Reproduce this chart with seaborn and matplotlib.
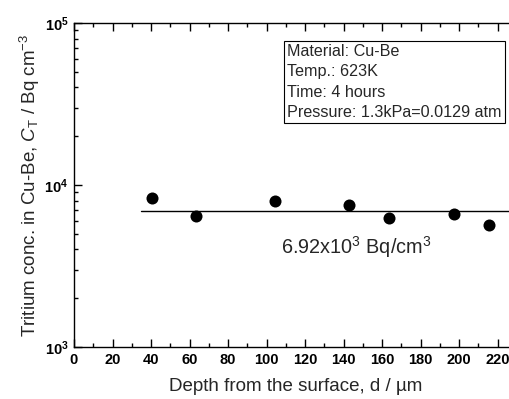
import matplotlib
matplotlib.use("Agg")
import matplotlib.pyplot as plt
import matplotlib.ticker as mticker
import numpy as np
import pandas as pd
import seaborn as sns

# Measured tritium concentration vs depth
depth_um = [40.4, 63.2, 104.4, 143.0, 163.8, 197.6, 215.4]
conc_bq_cm3 = [8300, 6450, 7950, 7550, 6250, 6650, 5700]

# Mean concentration level
mean_conc = 6920
mean_span = [34.6, 240]

x_ticks = [0, 20, 40, 60, 80, 100, 120, 140, 160, 180, 200, 220, 240]

info_lines = ["Material: Cu-Be", "Temp.: 623K", "Time: 4 hours",
              "Pressure: 1.3kPa=0.0129 atm"]

sns.set_theme(style="ticks")
plt.rcParams["font.family"] = ["Liberation Sans", "DejaVu Sans"]
plt.rcParams["mathtext.fontset"] = "custom"
plt.rcParams["mathtext.rm"] = "Liberation Sans"
plt.rcParams["mathtext.it"] = "Liberation Sans:italic"
plt.rcParams["mathtext.bf"] = "Liberation Sans:bold"

W, H = 509, 399
fig = plt.figure(figsize=(W / 100, H / 100), dpi=100)
ax_left, ax_right, ax_top, ax_bottom = 74, 536, 23, 347
ax = fig.add_axes([ax_left / W, (H - ax_bottom) / H,
                   (ax_right - ax_left) / W, (ax_bottom - ax_top) / H])

df = pd.DataFrame({"depth": depth_um, "conc": conc_bq_cm3})
line_df = pd.DataFrame({"depth": mean_span, "conc": [mean_conc, mean_conc]})

sns.lineplot(data=line_df, x="depth", y="conc", color="black", lw=1.0, ax=ax)
sns.scatterplot(data=df, x="depth", y="conc", color="black", s=75,
                edgecolor="black", linewidth=0, ax=ax, zorder=3)

ax.set_yscale("log")
ax.set_ylim(1e3, 1e5)
ax.set_xlim(0, 240)
ax.set_xticks(x_ticks)
ax.xaxis.set_minor_locator(mticker.MultipleLocator(10))
ax.yaxis.set_major_locator(mticker.LogLocator(base=10, numticks=5))
ax.yaxis.set_minor_locator(mticker.LogLocator(base=10, subs=np.arange(2, 10), numticks=10))
ax.yaxis.set_minor_formatter(mticker.NullFormatter())
ax.yaxis.set_major_formatter(mticker.FuncFormatter(
    lambda v, p: r"$\mathbf{10^{%d}}$" % round(np.log10(v))))

for lab in ax.get_xticklabels():
    lab.set_fontweight("bold")
ax.tick_params(axis="both", which="major", direction="in", length=6, width=1,
               labelsize=10.5, top=True, right=True, colors="black", pad=4)
ax.tick_params(axis="both", which="minor", direction="in", length=3, width=1,
               top=True, right=True, colors="black")
for sp in ax.spines.values():
    sp.set_visible(True)
    sp.set_linewidth(1.0)
    sp.set_color("black")

ax.set_xlabel("Depth from the surface, d / µm", fontsize=13.5, labelpad=8)
ax.set_ylabel(r"Tritium conc. in Cu-Be, $\mathit{C}_{\mathrm{T}}$ / Bq cm$^{-3}$",
              fontsize=13.5, labelpad=2)
ax.xaxis.label.set_position(((295.5 - ax_left) / (ax_right - ax_left), 0))

ax.text(287 / W, 1 - 82 / H, "\n".join(info_lines), transform=fig.transFigure,
        fontsize=11.6, ha="left", va="center", linespacing=1.42,
        bbox=dict(boxstyle="square,pad=0.2", fc="white", ec="black", lw=0.8))

ax.text(281 / W, 1 - 247 / H, r"6.92x10$^{3}$ Bq/cm$^{3}$",
        transform=fig.transFigure, fontsize=14.3, ha="left", va="center")

fig.savefig("out.png", dpi=100)
